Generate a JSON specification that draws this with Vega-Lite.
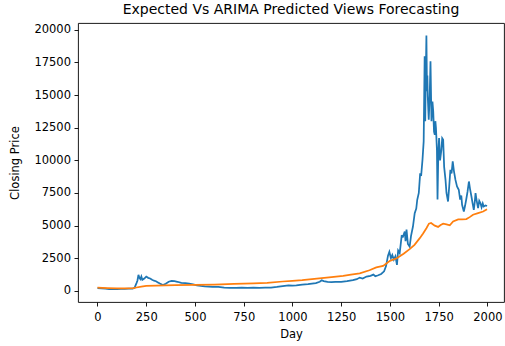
{
  "$schema": "https://vega.github.io/schema/vega-lite/v6.json",
  "autosize": "none",
  "width": 426,
  "height": 279,
  "padding": {"left": 78, "top": 23, "right": 1, "bottom": 44},
  "background": "white",
  "config": {
    "font": "DejaVu Sans",
    "view": {"stroke": "#000000", "strokeWidth": 0.9},
    "axis": {
      "domain": false,
      "grid": false,
      "ticks": true,
      "tickColor": "#000000",
      "tickSize": 4,
      "tickWidth": 0.9,
      "labelFont": "DejaVu Sans",
      "labelFontSize": 11.5,
      "labelColor": "#000000",
      "labelPadding": 3.5,
      "labelOverlap": false,
      "titleFont": "DejaVu Sans",
      "titleFontSize": 11.5,
      "titleFontWeight": "normal",
      "titleColor": "#000000"
    }
  },
  "title": {
    "text": "Expected Vs ARIMA Predicted Views Forecasting",
    "font": "DejaVu Sans",
    "fontSize": 14,
    "fontWeight": "normal",
    "color": "#000000",
    "anchor": "middle",
    "offset": 6
  },
  "datasets": {
    "expected": [
      {"day": 0, "value": 210}, {"day": 20, "value": 190}, {"day": 40, "value": 170}, {"day": 60, "value": 140},
      {"day": 80, "value": 130}, {"day": 100, "value": 140}, {"day": 120, "value": 150}, {"day": 140, "value": 160},
      {"day": 160, "value": 170}, {"day": 180, "value": 180}, {"day": 190, "value": 230}, {"day": 200, "value": 600},
      {"day": 205, "value": 800}, {"day": 210, "value": 1230}, {"day": 215, "value": 1000}, {"day": 220, "value": 900},
      {"day": 225, "value": 1100}, {"day": 230, "value": 850}, {"day": 240, "value": 950}, {"day": 250, "value": 1100},
      {"day": 260, "value": 1000}, {"day": 270, "value": 950}, {"day": 280, "value": 850}, {"day": 290, "value": 780},
      {"day": 300, "value": 740}, {"day": 310, "value": 650}, {"day": 320, "value": 560}, {"day": 335, "value": 450},
      {"day": 350, "value": 550}, {"day": 365, "value": 700}, {"day": 380, "value": 760}, {"day": 395, "value": 740},
      {"day": 410, "value": 700}, {"day": 430, "value": 620}, {"day": 450, "value": 600}, {"day": 470, "value": 560},
      {"day": 490, "value": 500}, {"day": 510, "value": 430}, {"day": 530, "value": 380}, {"day": 550, "value": 350},
      {"day": 570, "value": 330}, {"day": 590, "value": 300}, {"day": 620, "value": 300}, {"day": 650, "value": 260},
      {"day": 680, "value": 240}, {"day": 710, "value": 230}, {"day": 740, "value": 250}, {"day": 770, "value": 240},
      {"day": 800, "value": 260}, {"day": 830, "value": 240}, {"day": 860, "value": 260}, {"day": 890, "value": 250},
      {"day": 920, "value": 300}, {"day": 950, "value": 370}, {"day": 980, "value": 430}, {"day": 1000, "value": 400},
      {"day": 1020, "value": 420}, {"day": 1050, "value": 480}, {"day": 1080, "value": 520}, {"day": 1100, "value": 560},
      {"day": 1120, "value": 600}, {"day": 1140, "value": 700}, {"day": 1150, "value": 820}, {"day": 1160, "value": 750},
      {"day": 1180, "value": 700}, {"day": 1200, "value": 680}, {"day": 1220, "value": 690}, {"day": 1250, "value": 700},
      {"day": 1280, "value": 750}, {"day": 1310, "value": 820}, {"day": 1330, "value": 900}, {"day": 1345, "value": 1020},
      {"day": 1360, "value": 950}, {"day": 1380, "value": 1100}, {"day": 1400, "value": 1150}, {"day": 1415, "value": 1250},
      {"day": 1425, "value": 1120}, {"day": 1440, "value": 1200}, {"day": 1455, "value": 1300}, {"day": 1470, "value": 1500},
      {"day": 1480, "value": 1900}, {"day": 1490, "value": 2700}, {"day": 1497, "value": 3000}, {"day": 1505, "value": 2500},
      {"day": 1512, "value": 2750}, {"day": 1520, "value": 2400}, {"day": 1528, "value": 2650}, {"day": 1536, "value": 1990},
      {"day": 1542, "value": 3100}, {"day": 1550, "value": 2900}, {"day": 1560, "value": 4200}, {"day": 1567, "value": 4160},
      {"day": 1576, "value": 4550}, {"day": 1580, "value": 3800}, {"day": 1585, "value": 4700}, {"day": 1592, "value": 3600},
      {"day": 1601, "value": 3400}, {"day": 1608, "value": 4200}, {"day": 1618, "value": 4930}, {"day": 1627, "value": 5960},
      {"day": 1635, "value": 6300}, {"day": 1640, "value": 6980}, {"day": 1648, "value": 7500}, {"day": 1655, "value": 9000},
      {"day": 1660, "value": 8800}, {"day": 1667, "value": 10050}, {"day": 1673, "value": 11450}, {"day": 1678, "value": 17970},
      {"day": 1681, "value": 13000}, {"day": 1683, "value": 15670}, {"day": 1687, "value": 19560}, {"day": 1690, "value": 15290},
      {"day": 1692, "value": 16500}, {"day": 1694, "value": 14900},
      {"day": 1699, "value": 13120}, {"day": 1704, "value": 15000}, {"day": 1708, "value": 17590}, {"day": 1713, "value": 12990},
      {"day": 1718, "value": 14500}, {"day": 1722, "value": 13750}, {"day": 1726, "value": 12200}, {"day": 1730, "value": 11960},
      {"day": 1733, "value": 13000}, {"day": 1736, "value": 12500},
      {"day": 1741, "value": 10800}, {"day": 1744, "value": 7000}, {"day": 1748, "value": 10500}, {"day": 1752, "value": 11710},
      {"day": 1757, "value": 10000}, {"day": 1764, "value": 10810}, {"day": 1768, "value": 11700}, {"day": 1773, "value": 11580},
      {"day": 1778, "value": 9500}, {"day": 1785, "value": 8500}, {"day": 1790, "value": 7500}, {"day": 1798, "value": 6850},
      {"day": 1804, "value": 8000}, {"day": 1810, "value": 9280}, {"day": 1816, "value": 9000}, {"day": 1822, "value": 9920},
      {"day": 1828, "value": 9200}, {"day": 1836, "value": 8500}, {"day": 1844, "value": 8000}, {"day": 1853, "value": 7750},
      {"day": 1860, "value": 7000}, {"day": 1866, "value": 7300}, {"day": 1870, "value": 6600}, {"day": 1879, "value": 6080},
      {"day": 1885, "value": 6500}, {"day": 1891, "value": 6980}, {"day": 1898, "value": 7600}, {"day": 1905, "value": 8380},
      {"day": 1911, "value": 7800}, {"day": 1918, "value": 7230}, {"day": 1924, "value": 6700}, {"day": 1930, "value": 6210},
      {"day": 1935, "value": 6800}, {"day": 1939, "value": 7490}, {"day": 1945, "value": 6900}, {"day": 1952, "value": 6340},
      {"day": 1958, "value": 6900}, {"day": 1964, "value": 6730}, {"day": 1970, "value": 6400}, {"day": 1976, "value": 6700},
      {"day": 1981, "value": 6470}, {"day": 1990, "value": 6550}, {"day": 1998, "value": 6500}
    ],
    "predicted": [
      {"day": 0, "value": 250}, {"day": 50, "value": 220}, {"day": 100, "value": 200}, {"day": 150, "value": 200},
      {"day": 185, "value": 210}, {"day": 200, "value": 260}, {"day": 225, "value": 330}, {"day": 250, "value": 380},
      {"day": 300, "value": 400}, {"day": 400, "value": 440}, {"day": 500, "value": 460}, {"day": 600, "value": 480},
      {"day": 700, "value": 530}, {"day": 800, "value": 580}, {"day": 870, "value": 620}, {"day": 950, "value": 720},
      {"day": 1000, "value": 770}, {"day": 1050, "value": 820}, {"day": 1100, "value": 900}, {"day": 1150, "value": 970},
      {"day": 1200, "value": 1050}, {"day": 1260, "value": 1150}, {"day": 1300, "value": 1250}, {"day": 1345, "value": 1350},
      {"day": 1395, "value": 1580}, {"day": 1430, "value": 1800}, {"day": 1465, "value": 1920}, {"day": 1500, "value": 2300},
      {"day": 1535, "value": 2500}, {"day": 1570, "value": 2850}, {"day": 1601, "value": 3200}, {"day": 1626, "value": 3530},
      {"day": 1653, "value": 4040}, {"day": 1670, "value": 4400}, {"day": 1687, "value": 4800}, {"day": 1700, "value": 5150},
      {"day": 1711, "value": 5200}, {"day": 1730, "value": 5000}, {"day": 1747, "value": 4900}, {"day": 1760, "value": 5050},
      {"day": 1773, "value": 5150}, {"day": 1790, "value": 5100}, {"day": 1807, "value": 5020}, {"day": 1824, "value": 5320},
      {"day": 1850, "value": 5480}, {"day": 1870, "value": 5480}, {"day": 1892, "value": 5500}, {"day": 1909, "value": 5650},
      {"day": 1926, "value": 5830}, {"day": 1952, "value": 5960}, {"day": 1978, "value": 6080}, {"day": 1998, "value": 6250}
    ]
  },
  "encoding": {
    "x": {"field": "day", "type": "quantitative", "title": "Day",
          "scale": {"domain": [-100, 2085], "nice": false, "zero": false},
          "axis": {"values": [0, 250, 500, 750, 1000, 1250, 1500, 1750, 2000], "format": "d", "labelOverlap": false, "labelPadding": 5, "titlePadding": 6}},
    "y": {"field": "value", "type": "quantitative", "title": "Closing Price",
          "scale": {"domain": [-850, 20520], "nice": false, "zero": false},
          "axis": {"values": [0, 2500, 5000, 7500, 10000, 12500, 15000, 17500, 20000], "format": "d", "labelOverlap": false, "titlePadding": 13}}
  },
  "layer": [
    {
      "data": {"name": "expected"},
      "mark": {"type": "line", "color": "#1f77b4", "strokeWidth": 1.75, "clip": true}
    },
    {
      "data": {"name": "predicted"},
      "mark": {"type": "line", "color": "#ff7f0e", "strokeWidth": 1.75, "clip": true}
    }
  ]
}
